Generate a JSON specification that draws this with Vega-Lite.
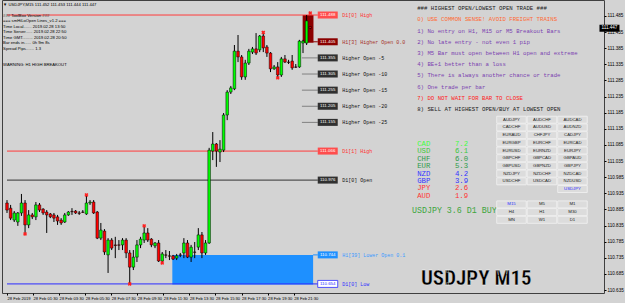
{
  "$schema": "https://vega.github.io/schema/vega-lite/v6.json",
  "width": 602,
  "height": 293,
  "autosize": {"type": "none"},
  "padding": {"left": 2, "top": 0, "right": 21, "bottom": 10},
  "background": "#d3d3d3",
  "config": {
    "view": {"stroke": "#404040", "strokeWidth": 1, "fill": "#d3d3d3"},
    "axis": {"grid": false, "domain": false, "tickColor": "#000", "labelColor": "#000", "labelFont": "Liberation Sans", "tickSize": 2, "title": null, "labelOverlap": false, "labelBound": false}
  },
  "datasets": {
    "candles": [
      {"i":0,"o":110.905,"h":110.914,"l":110.874,"c":110.883},
      {"i":1,"o":110.889,"h":110.899,"l":110.852,"c":110.858},
      {"i":2,"o":110.852,"h":110.880,"l":110.846,"c":110.874},
      {"i":3,"o":110.846,"h":110.877,"l":110.834,"c":110.874},
      {"i":4,"o":110.874,"h":110.933,"l":110.865,"c":110.905},
      {"i":5,"o":110.905,"h":110.914,"l":110.812,"c":110.837},
      {"i":6,"o":110.837,"h":110.883,"l":110.827,"c":110.868},
      {"i":7,"o":110.868,"h":110.874,"l":110.855,"c":110.862},
      {"i":8,"o":110.862,"h":110.908,"l":110.852,"c":110.899},
      {"i":9,"o":110.899,"h":110.905,"l":110.877,"c":110.883},
      {"i":10,"o":110.886,"h":110.889,"l":110.868,"c":110.874},
      {"i":11,"o":110.877,"h":110.883,"l":110.812,"c":110.868},
      {"i":12,"o":110.871,"h":110.874,"l":110.858,"c":110.862},
      {"i":13,"o":110.868,"h":110.874,"l":110.846,"c":110.858},
      {"i":14,"o":110.862,"h":110.868,"l":110.837,"c":110.849},
      {"i":15,"o":110.852,"h":110.858,"l":110.837,"c":110.843},
      {"i":16,"o":110.846,"h":110.874,"l":110.843,"c":110.868},
      {"i":17,"o":110.868,"h":110.880,"l":110.865,"c":110.877},
      {"i":18,"o":110.879,"h":110.889,"l":110.868,"c":110.878},
      {"i":19,"o":110.880,"h":110.883,"l":110.871,"c":110.874},
      {"i":20,"o":110.874,"h":110.880,"l":110.868,"c":110.873},
      {"i":21,"o":110.877,"h":110.883,"l":110.874,"c":110.876},
      {"i":22,"o":110.871,"h":110.927,"l":110.868,"c":110.905},
      {"i":23,"o":110.905,"h":110.914,"l":110.899,"c":110.908},
      {"i":24,"o":110.908,"h":110.914,"l":110.871,"c":110.874},
      {"i":25,"o":110.877,"h":110.880,"l":110.793,"c":110.796},
      {"i":26,"o":110.796,"h":110.843,"l":110.790,"c":110.821},
      {"i":27,"o":110.818,"h":110.824,"l":110.744,"c":110.753},
      {"i":28,"o":110.744,"h":110.796,"l":110.688,"c":110.790},
      {"i":29,"o":110.790,"h":110.796,"l":110.759,"c":110.765},
      {"i":30,"o":110.775,"h":110.800,"l":110.734,"c":110.773},
      {"i":31,"o":110.775,"h":110.790,"l":110.759,"c":110.774},
      {"i":32,"o":110.775,"h":110.796,"l":110.759,"c":110.790},
      {"i":33,"o":110.790,"h":110.796,"l":110.734,"c":110.750},
      {"i":34,"o":110.750,"h":110.759,"l":110.654,"c":110.706},
      {"i":35,"o":110.706,"h":110.759,"l":110.697,"c":110.737},
      {"i":36,"o":110.737,"h":110.790,"l":110.722,"c":110.775},
      {"i":37,"o":110.775,"h":110.800,"l":110.765,"c":110.793},
      {"i":38,"o":110.790,"h":110.834,"l":110.781,"c":110.812},
      {"i":39,"o":110.812,"h":110.827,"l":110.784,"c":110.790},
      {"i":40,"o":110.793,"h":110.796,"l":110.768,"c":110.775},
      {"i":41,"o":110.772,"h":110.784,"l":110.765,"c":110.781},
      {"i":42,"o":110.781,"h":110.790,"l":110.722,"c":110.725},
      {"i":43,"o":110.725,"h":110.753,"l":110.716,"c":110.747},
      {"i":44,"o":110.744,"h":110.759,"l":110.734,"c":110.743},
      {"i":45,"o":110.741,"h":110.756,"l":110.728,"c":110.740},
      {"i":46,"o":110.741,"h":110.744,"l":110.728,"c":110.731},
      {"i":47,"o":110.734,"h":110.747,"l":110.728,"c":110.741},
      {"i":48,"o":110.744,"h":110.750,"l":110.737,"c":110.743},
      {"i":49,"o":110.750,"h":110.796,"l":110.734,"c":110.781},
      {"i":50,"o":110.781,"h":110.790,"l":110.734,"c":110.737},
      {"i":51,"o":110.737,"h":110.775,"l":110.722,"c":110.768},
      {"i":52,"o":110.753,"h":110.784,"l":110.734,"c":110.752},
      {"i":53,"o":110.768,"h":110.827,"l":110.759,"c":110.806},
      {"i":54,"o":110.806,"h":110.815,"l":110.734,"c":110.750},
      {"i":55,"o":110.750,"h":110.790,"l":110.744,"c":110.781},
      {"i":56,"o":110.781,"h":111.076,"l":110.778,"c":111.069},
      {"i":57,"o":111.066,"h":111.125,"l":111.038,"c":111.088},
      {"i":58,"o":111.088,"h":111.091,"l":111.017,"c":111.066},
      {"i":59,"o":111.063,"h":111.100,"l":111.032,"c":111.072},
      {"i":60,"o":111.069,"h":111.184,"l":111.063,"c":111.178},
      {"i":61,"o":111.178,"h":111.255,"l":111.162,"c":111.249},
      {"i":62,"o":111.249,"h":111.268,"l":111.243,"c":111.262},
      {"i":63,"o":111.259,"h":111.395,"l":111.255,"c":111.376},
      {"i":64,"o":111.376,"h":111.426,"l":111.342,"c":111.358},
      {"i":65,"o":111.358,"h":111.364,"l":111.287,"c":111.296},
      {"i":66,"o":111.296,"h":111.349,"l":111.287,"c":111.339},
      {"i":67,"o":111.339,"h":111.383,"l":111.333,"c":111.376},
      {"i":68,"o":111.373,"h":111.389,"l":111.367,"c":111.383},
      {"i":69,"o":111.383,"h":111.432,"l":111.364,"c":111.370},
      {"i":70,"o":111.380,"h":111.426,"l":111.373,"c":111.423},
      {"i":71,"o":111.423,"h":111.432,"l":111.373,"c":111.386},
      {"i":72,"o":111.389,"h":111.395,"l":111.358,"c":111.370},
      {"i":73,"o":111.370,"h":111.373,"l":111.311,"c":111.321},
      {"i":74,"o":111.321,"h":111.333,"l":111.318,"c":111.327},
      {"i":75,"o":111.327,"h":111.342,"l":111.293,"c":111.302},
      {"i":76,"o":111.302,"h":111.358,"l":111.296,"c":111.352},
      {"i":77,"o":111.352,"h":111.364,"l":111.339,"c":111.342},
      {"i":78,"o":111.342,"h":111.349,"l":111.336,"c":111.341},
      {"i":79,"o":111.345,"h":111.364,"l":111.318,"c":111.324},
      {"i":80,"o":111.327,"h":111.336,"l":111.324,"c":111.326},
      {"i":81,"o":111.327,"h":111.411,"l":111.324,"c":111.407},
      {"i":82,"o":111.401,"h":111.411,"l":111.370,"c":111.407},
      {"i":83,"o":111.401,"h":111.488,"l":111.395,"c":111.470},
      {"i":84,"o":111.452,"h":111.453,"l":111.444,"c":111.447}
    ],
    "markers": [
      {"i":5,"p":110.809},{"i":22,"p":110.930},{"i":38,"p":110.834},{"i":43,"p":110.719},
      {"i":34,"p":110.654},{"i":71,"p":111.434},{"i":75,"p":111.293},{"i":84,"p":111.494}
    ],
    "zones": [
      {"kind":"H1 Bar","x1":81.9,"x2":84.9,"p1":111.402,"p2":111.488},
      {"kind":"Lower Zone","x1":45.8,"x2":84.8,"p1":110.652,"p2":110.744}
    ],
    "levels": [
      {"kind":"D1 High","price":111.488,"desc":"D1[0] High","x1":0,"x2":86.1},
      {"kind":"H1 Open","price":111.405,"desc":"H1[3] Higher Open 0.0","x1":84.8,"x2":86.1},
      {"kind":"Higher","price":111.355,"desc":"Higher Open -5","x1":81.7,"x2":86.1},
      {"kind":"Higher","price":111.305,"desc":"Higher Open -10","x1":81.7,"x2":86.1},
      {"kind":"Higher","price":111.255,"desc":"Higher Open -15","x1":81.7,"x2":86.1},
      {"kind":"Higher","price":111.205,"desc":"Higher Open -20","x1":81.7,"x2":86.1},
      {"kind":"Higher","price":111.155,"desc":"Higher Open -25","x1":81.7,"x2":86.1},
      {"kind":"D1 Prev High","price":111.066,"desc":"D1[1] High","x1":0,"x2":86.1},
      {"kind":"D1 Open","price":110.976,"desc":"D1[0] Open","x1":0,"x2":86.1},
      {"kind":"Lower","price":110.744,"desc":"H1[39] Lower Open 0.1","x1":84.8,"x2":86.1},
      {"kind":"D1 Low","price":110.654,"desc":"D1[0] Low","x1":0,"x2":86.1}
    ],
    "quote": [{"sym":"USDJPY","tf":"M15","o":111.452,"h":111.453,"l":111.444,"c":111.447}],
    "info": [
      {"n":-2,"text":"▼ USDJPY,M15  111.452 111.453 111.444 111.447"},
      {"n":0,"text":"### ToolBox Version ###"},
      {"n":1,"text":"=== smHiLoOpen Lines_v1.2 ==="},
      {"n":2,"text":"Time Local.......  2019.02.28 13:50"},
      {"n":3,"text":"Time Server......  2019.02.28 22:50"},
      {"n":4,"text":"Time GMT.........  2019.02.28 20:50"},
      {"n":5,"text":"Bar ends in......  0h 9m 8s"},
      {"n":6,"text":"Spread Pips.......  1.3"},
      {"n":9,"text":"WARNING: H1 HIGH BREAKOUT"}
    ],
    "panel": [
      {"n":0,"grp":"head","text":"### HIGHEST OPEN/LOWEST OPEN TRADE ###"},
      {"n":1,"grp":"warn","text":"0) USE COMMON SENSE!  AVOID FREIGHT TRAINS"},
      {"n":2,"grp":"rule","text":"1) No entry on H1, M15 or M5 Breakout Bars"},
      {"n":3,"grp":"rule","text":"2) No late entry - not even 1 pip"},
      {"n":4,"grp":"rule","text":"3) M5 Bar must open between H1 open and extreme"},
      {"n":5,"grp":"rule","text":"4) BE+1 better than a loss"},
      {"n":6,"grp":"rule","text":"5) There is always another chance or trade"},
      {"n":7,"grp":"rule","text":"6) One trade per bar"},
      {"n":8,"grp":"stop","text":"7) DO NOT WAIT FOR BAR TO CLOSE"},
      {"n":9,"grp":"final","text":"8) SELL AT HIGHEST OPEN/BUY AT LOWEST OPEN"}
    ],
    "strength": [
      {"n":0,"cur":"CAD","val":7.2,"tier":"t1"},
      {"n":1,"cur":"USD","val":6.1,"tier":"t2"},
      {"n":2,"cur":"CHF","val":6.0,"tier":"t3"},
      {"n":3,"cur":"EUR","val":5.3,"tier":"t3"},
      {"n":4,"cur":"NZD","val":4.2,"tier":"t4"},
      {"n":5,"cur":"GBP","val":3.9,"tier":"t4"},
      {"n":6,"cur":"JPY","val":2.6,"tier":"t5"},
      {"n":7,"cur":"AUD","val":1.9,"tier":"t5"}
    ],
    "signal": [{"n":9,"text":"USDJPY 3.6 D1 BUY"}],
    "buttons": [
      {"row":0,"col":1,"name":"AUDJPY","state":"off"},{"row":0,"col":2,"name":"AUDCHF","state":"off"},{"row":0,"col":3,"name":"AUDCAD","state":"off"},
      {"row":1,"col":1,"name":"CADCHF","state":"off"},{"row":1,"col":2,"name":"AUDUSD","state":"off"},{"row":1,"col":3,"name":"AUDNZD","state":"off"},
      {"row":2,"col":1,"name":"EURAUD","state":"off"},{"row":2,"col":2,"name":"CHFJPY","state":"off"},{"row":2,"col":3,"name":"CADJPY","state":"off"},
      {"row":3,"col":1,"name":"EURGBP","state":"off"},{"row":3,"col":2,"name":"EURCHF","state":"off"},{"row":3,"col":3,"name":"EURCAD","state":"off"},
      {"row":4,"col":1,"name":"EURUSD","state":"off"},{"row":4,"col":2,"name":"EURNZD","state":"off"},{"row":4,"col":3,"name":"EURJPY","state":"off"},
      {"row":5,"col":1,"name":"GBPCHF","state":"off"},{"row":5,"col":2,"name":"GBPCAD","state":"off"},{"row":5,"col":3,"name":"GBPAUD","state":"off"},
      {"row":6,"col":1,"name":"GBPUSD","state":"off"},{"row":6,"col":2,"name":"GBPNZD","state":"off"},{"row":6,"col":3,"name":"GBPJPY","state":"off"},
      {"row":7,"col":1,"name":"NZDJPY","state":"off"},{"row":7,"col":2,"name":"NZDCHF","state":"off"},{"row":7,"col":3,"name":"NZDCAD","state":"off"},
      {"row":8,"col":1,"name":"USDCHF","state":"off"},{"row":8,"col":2,"name":"USDCAD","state":"off"},{"row":8,"col":3,"name":"NZDUSD","state":"off"},
      {"row":9,"col":3,"name":"USDJPY","state":"on"},
      {"row":11,"col":1,"name":"M15","state":"on"},{"row":11,"col":2,"name":"M5","state":"off"},{"row":11,"col":3,"name":"M1","state":"off"},
      {"row":12,"col":1,"name":"H4","state":"off"},{"row":12,"col":2,"name":"H1","state":"off"},{"row":12,"col":3,"name":"M30","state":"off"},
      {"row":13,"col":1,"name":"MN","state":"off"},{"row":13,"col":2,"name":"W1","state":"off"},{"row":13,"col":3,"name":"D1","state":"off"}
    ]
  },
  "resolve": {"scale": {"x": "independent", "y": "independent", "color": "independent", "fill": "independent", "stroke": "independent"}},
  "layer": [
    {
      "resolve": {"scale": {"fill": "independent", "stroke": "independent", "color": "independent"}},
      "layer": [
        {
          "data": {"name": "zones"},
          "mark": {"type": "rect"},
          "encoding": {
            "x": {"field": "x1", "type": "quantitative", "scale": {"domain": [0, 164], "nice": false, "zero": false},
              "axis": {"orient": "bottom", "values": [0, 7.22, 14.44, 21.66, 28.88, 36.1, 43.32, 50.54, 57.76, 64.98, 72.2, 79.42], "tickCount": 40,
                "labelExpr": "['28 Feb 2019','28 Feb 01:30','28 Feb 03:30','28 Feb 05:30','28 Feb 07:30','28 Feb 09:30','28 Feb 11:30','28 Feb 13:30','28 Feb 15:30','28 Feb 17:30','28 Feb 19:30','28 Feb 21:30'][round(datum.value / 7.22)]",
                "labelAlign": "left", "labelBaseline": "top", "labelFontSize": 4.1, "labelPadding": 1, "labelFlush": false, "labelOverlap": false}},
            "x2": {"field": "x2"},
            "y": {"field": "p1", "type": "quantitative", "scale": {"domain": [110.6258, 111.5346], "nice": false, "zero": false},
              "axis": {"orient": "right", "values": [110.635, 110.685, 110.735, 110.785, 110.835, 110.885, 110.935, 110.985, 111.035, 111.085, 111.135, 111.185, 111.235, 111.285, 111.335, 111.385, 111.435, 111.485], "tickCount": 40,
                "format": ".3f", "labelFontSize": 4.6, "labelPadding": 1, "labelBaseline": "middle", "labelFlush": false, "labelOverlap": false, "labelBound": false}},
            "y2": {"field": "p2"},
            "fill": {"field": "kind", "type": "nominal", "scale": {"domain": ["H1 Bar", "Lower Zone"], "range": ["#8b0000", "#1e90ff"]}, "legend": null}
          }
        },
        {
          "data": {"name": "levels"},
          "mark": {"type": "rule", "strokeWidth": 1},
          "encoding": {
            "x": {"field": "x1", "type": "quantitative", "scale": {"domain": [0, 164], "nice": false, "zero": false}},
            "x2": {"field": "x2"},
            "y": {"field": "price", "type": "quantitative", "scale": {"domain": [110.6258, 111.5346], "nice": false, "zero": false}},
            "stroke": {"field": "kind", "type": "nominal", "legend": null,
              "scale": {"domain": ["D1 High", "H1 Open", "Higher", "D1 Prev High", "D1 Open", "Lower", "D1 Low"],
                "range": ["#ff3b3b", "#8b0000", "#808080", "#ff3b3b", "#333333", "#1e90ff", "#2b2bff"]}}
          }
        },
        {
          "data": {"name": "candles"},
          "mark": {"type": "rule", "strokeWidth": 1, "color": "#000"},
          "encoding": {
            "x": {"field": "i", "type": "quantitative", "scale": {"domain": [0, 164], "nice": false, "zero": false}},
            "y": {"field": "l", "type": "quantitative", "scale": {"domain": [110.6258, 111.5346], "nice": false, "zero": false}},
            "y2": {"field": "h"}
          }
        },
        {
          "data": {"name": "candles"},
          "mark": {"type": "bar", "size": 2.6, "stroke": "#000", "strokeWidth": 0.5},
          "encoding": {
            "x": {"field": "i", "type": "quantitative", "scale": {"domain": [0, 164], "nice": false, "zero": false}},
            "y": {"field": "o", "type": "quantitative", "scale": {"domain": [110.6258, 111.5346], "nice": false, "zero": false}},
            "y2": {"field": "c"},
            "fill": {"condition": {"test": "datum.c > datum.o", "value": "#00ff00"}, "value": "#ff0000"}
          }
        },
        {
          "data": {"name": "markers"},
          "mark": {"type": "point", "shape": "cross", "angle": 45, "filled": true, "size": 16, "color": "#ff2020", "opacity": 1},
          "encoding": {
            "x": {"field": "i", "type": "quantitative", "scale": {"domain": [0, 164], "nice": false, "zero": false}},
            "y": {"field": "p", "type": "quantitative", "scale": {"domain": [110.6258, 111.5346], "nice": false, "zero": false}}
          }
        },
        {
          "data": {"name": "levels"},
          "mark": {"type": "point", "shape": "M-1,-0.35H1V0.35H-1Z", "size": 400, "filled": true, "opacity": 1, "strokeWidth": 0.8},
          "encoding": {
            "x": {"datum": 88.85, "type": "quantitative", "scale": {"domain": [0, 164], "nice": false, "zero": false}},
            "y": {"field": "price", "type": "quantitative", "scale": {"domain": [110.6258, 111.5346], "nice": false, "zero": false}},
            "fill": {"field": "kind", "type": "nominal", "legend": null,
              "scale": {"domain": ["D1 High", "H1 Open", "Higher", "D1 Prev High", "D1 Open", "Lower", "D1 Low"],
                "range": ["#ff4d4d", "#8b0000", "#303030", "#ff4d4d", "#303030", "#1e90ff", "#ffffff"]}},
            "stroke": {"condition": {"test": "datum.kind == 'D1 Low'", "value": "#2b2bff"}, "value": "transparent"}
          }
        },
        {
          "data": {"name": "levels"},
          "mark": {"type": "text", "font": "Liberation Sans", "fontSize": 4.4, "align": "center", "baseline": "middle"},
          "encoding": {
            "x": {"datum": 88.85, "type": "quantitative", "scale": {"domain": [0, 164], "nice": false, "zero": false}},
            "y": {"field": "price", "type": "quantitative", "scale": {"domain": [110.6258, 111.5346], "nice": false, "zero": false}},
            "text": {"field": "price", "format": ".3f"},
            "color": {"condition": {"test": "datum.kind == 'D1 Low'", "value": "#2b2bff"}, "value": "#ffffff"}
          }
        },
        {
          "data": {"name": "levels"},
          "mark": {"type": "text", "font": "Liberation Mono", "fontSize": 5, "align": "left", "baseline": "middle"},
          "encoding": {
            "x": {"datum": 92.9, "type": "quantitative", "scale": {"domain": [0, 164], "nice": false, "zero": false}},
            "y": {"field": "price", "type": "quantitative", "scale": {"domain": [110.6258, 111.5346], "nice": false, "zero": false}},
            "text": {"field": "desc"},
            "color": {"field": "kind", "type": "nominal", "legend": null,
              "scale": {"domain": ["D1 High", "H1 Open", "Higher", "D1 Prev High", "D1 Open", "Lower", "D1 Low"],
                "range": ["#ff3030", "#a5302a", "#111111", "#ff3030", "#111111", "#3d9aff", "#3030ff"]}}
          }
        },
        {
          "data": {"name": "quote"},
          "mark": {"type": "point", "shape": "M-1,-0.35H1V0.35H-1Z", "size": 400, "filled": true, "opacity": 1, "color": "#000"},
          "encoding": {
            "x": {"datum": 166.9, "type": "quantitative", "scale": {"domain": [0, 164], "nice": false, "zero": false}},
            "y": {"field": "c", "type": "quantitative", "scale": {"domain": [110.6258, 111.5346], "nice": false, "zero": false}}
          }
        },
        {
          "data": {"name": "quote"},
          "mark": {"type": "text", "font": "Liberation Sans", "fontSize": 4.6, "align": "center", "baseline": "middle", "color": "#fff"},
          "encoding": {
            "x": {"datum": 166.9, "type": "quantitative", "scale": {"domain": [0, 164], "nice": false, "zero": false}},
            "y": {"field": "c", "type": "quantitative", "scale": {"domain": [110.6258, 111.5346], "nice": false, "zero": false}},
            "text": {"field": "c", "format": ".3f"}
          }
        },
        {
          "data": {"name": "quote"},
          "mark": {"type": "text", "font": "Liberation Sans Narrow, Roboto Condensed, DejaVu Sans Condensed, Roboto, Liberation Sans, sans-serif", "fontWeight": "bold", "fontSize": 21, "align": "center", "baseline": "alphabetic", "color": "#000", "stroke": "#ffffff", "strokeWidth": 0.3},
          "encoding": {
            "x": {"datum": 130, "type": "quantitative", "scale": {"domain": [0, 164], "nice": false, "zero": false}},
            "y": {"datum": 110.651, "type": "quantitative", "scale": {"domain": [110.6258, 111.5346], "nice": false, "zero": false}},
            "text": {"value": "USDJPY M15"}
          }
        }
      ]
    },
    {
      "data": {"name": "info"},
      "mark": {"type": "text", "font": "Liberation Sans", "fontSize": 4.2, "align": "left", "baseline": "middle", "color": "#000"},
      "encoding": {
        "x": {"datum": 0.3, "type": "quantitative", "scale": {"domain": [0, 164], "nice": false, "zero": false}, "axis": null},
        "y": {"field": "n", "type": "quantitative", "scale": {"domain": [-2.909, 50.364], "reverse": true, "nice": false, "zero": false}, "axis": null},
        "text": {"field": "text"}
      }
    },
    {
      "data": {"name": "panel"},
      "mark": {"type": "text", "font": "Liberation Mono", "fontSize": 5.7, "align": "left", "baseline": "middle"},
      "encoding": {
        "x": {"datum": 113.1, "type": "quantitative", "scale": {"domain": [0, 164], "nice": false, "zero": false}, "axis": null},
        "y": {"field": "n", "type": "quantitative", "scale": {"domain": [-0.7417, 25.442], "reverse": true, "nice": false, "zero": false}, "axis": null},
        "text": {"field": "text"},
        "color": {"field": "grp", "type": "nominal", "legend": null,
          "scale": {"domain": ["head", "warn", "rule", "stop", "final"], "range": ["#1a1a1a", "#ff6a33", "#7a3fb0", "#ff2020", "#1a1a1a"]}}
      }
    },
    {
      "resolve": {"scale": {"color": "independent"}},
      "layer": [
        {
          "data": {"name": "strength"},
          "mark": {"type": "text", "font": "Liberation Mono", "fontSize": 7.3, "align": "left", "baseline": "middle"},
          "encoding": {
            "x": {"datum": 113.1, "type": "quantitative", "scale": {"domain": [0, 164], "nice": false, "zero": false}, "axis": null},
            "y": {"field": "n", "type": "quantitative", "scale": {"domain": [-19.486, 20.162], "reverse": true, "nice": false, "zero": false}, "axis": null},
            "text": {"field": "cur"},
            "color": {"field": "tier", "type": "nominal", "legend": null,
              "scale": {"domain": ["t1", "t2", "t3", "t4", "t5"], "range": ["#40ff40", "#3cc83c", "#2e9a4a", "#3333ff", "#ff3333"]}}
          }
        },
        {
          "data": {"name": "strength"},
          "mark": {"type": "text", "font": "Liberation Mono", "fontSize": 7.3, "align": "left", "baseline": "middle"},
          "encoding": {
            "x": {"datum": 123.4, "type": "quantitative", "scale": {"domain": [0, 164], "nice": false, "zero": false}, "axis": null},
            "y": {"field": "n", "type": "quantitative", "scale": {"domain": [-19.486, 20.162], "reverse": true, "nice": false, "zero": false}, "axis": null},
            "text": {"field": "val", "format": ".1f"},
            "color": {"field": "tier", "type": "nominal", "legend": null,
              "scale": {"domain": ["t1", "t2", "t3", "t4", "t5"], "range": ["#40ff40", "#3cc83c", "#2e9a4a", "#3333ff", "#ff3333"]}}
          }
        },
        {
          "data": {"name": "signal"},
          "mark": {"type": "text", "font": "Liberation Mono", "fontSize": 8.3, "align": "left", "baseline": "middle", "color": "#3da53d"},
          "encoding": {
            "x": {"datum": 111.7, "type": "quantitative", "scale": {"domain": [0, 164], "nice": false, "zero": false}, "axis": null},
            "y": {"field": "n", "type": "quantitative", "scale": {"domain": [-19.486, 20.162], "reverse": true, "nice": false, "zero": false}, "axis": null},
            "text": {"field": "text"}
          }
        }
      ]
    },
    {
      "layer": [
        {
          "data": {"name": "buttons"},
          "mark": {"type": "point", "shape": "M-1,-0.237H1V0.237H-1Z", "size": 870, "filled": true, "opacity": 1, "fill": "#dcdcdc", "stroke": "#f2f2f2", "strokeWidth": 0.8},
          "encoding": {
            "x": {"field": "col", "type": "quantitative", "scale": {"domain": [-15.705, 4.033], "nice": false, "zero": false}, "axis": null},
            "y": {"field": "row", "type": "quantitative", "scale": {"domain": [-15.545, 22.506], "reverse": true, "nice": false, "zero": false}, "axis": null}
          }
        },
        {
          "data": {"name": "buttons"},
          "mark": {"type": "text", "font": "Liberation Sans", "fontSize": 4.3, "align": "center", "baseline": "middle"},
          "encoding": {
            "x": {"field": "col", "type": "quantitative", "scale": {"domain": [-15.705, 4.033], "nice": false, "zero": false}, "axis": null},
            "y": {"field": "row", "type": "quantitative", "scale": {"domain": [-15.545, 22.506], "reverse": true, "nice": false, "zero": false}, "axis": null},
            "text": {"field": "name"},
            "color": {"field": "state", "type": "nominal", "legend": null, "scale": {"domain": ["on", "off"], "range": ["#3030ff", "#222222"]}}
          }
        }
      ]
    }
  ]
}
